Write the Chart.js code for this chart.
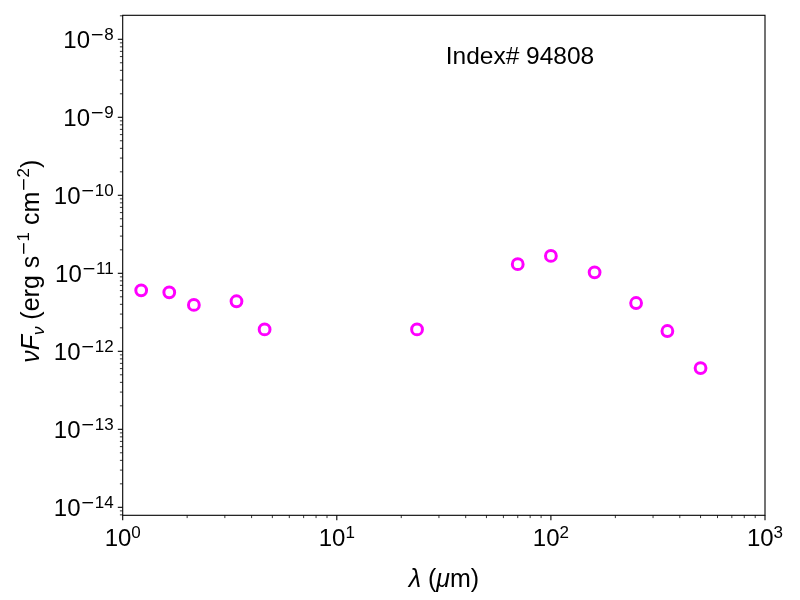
<!DOCTYPE html>
<html>
<head>
<meta charset="utf-8">
<title>SED Index# 94808</title>
<script src="https://cdn.jsdelivr.net/npm/chart.js@4/dist/chart.umd.min.js"></script>
<style>
  html, body { margin: 0; padding: 0; background: #fff; }
  canvas { display: block; }
</style>
</head>
<body>
<canvas id="sed" width="800" height="600"></canvas>
<script>
// ===== DATA =====
const lambdaUm = [1.22, 1.65, 2.15, 3.4, 4.6, 23.7, 70, 100, 160, 250, 350, 500];
const nuFnu = [6.05e-12, 5.7e-12, 3.93e-12, 4.38e-12, 1.91e-12, 1.91e-12, 1.31e-11, 1.67e-11, 1.03e-11, 4.16e-12, 1.82e-12, 6.1e-13];
const xRange = [1, 1000];
const yRange = [7.9e-15, 2.03e-8];
const xTickExps = [0, 1, 2, 3];
const yTickExps = [-14, -13, -12, -11, -10, -9, -8];
const minorSteps = [2, 3, 4, 5, 6, 7, 8, 9];
const titleText = 'Index# 94808';

const FAM = '"Liberation Sans", Arial, sans-serif';
const F_MAIN = '24px ' + FAM;
const F_SUP = '17px ' + FAM;
const F_MINUS = '17px "DejaVu Sans", sans-serif';   // mathtext minus is wide
const F_LBL = '25px ' + FAM;
const F_LBL_IT = 'italic 25px ' + FAM;
const F_LBL_SUB = 'italic 17px ' + FAM;

function drawRich(ctx, segs, x, y, align) {
  let w = 0;
  segs.forEach(s => { ctx.font = s.font; s.w = ctx.measureText(s.text).width; w += s.w; });
  let cx = align === 'center' ? x - w / 2 : align === 'right' ? x - w : x;
  ctx.textAlign = 'left';
  ctx.textBaseline = 'alphabetic';
  segs.forEach(s => { ctx.font = s.font; ctx.fillText(s.text, cx, y + (s.dy || 0)); cx += s.w; });
}

// "10" with a raised exponent
function powSegs(e, base) {
  const segs = [{ text: '10', font: base }];
  if (e < 0) segs.push({ text: '\u2212', font: F_MINUS, dy: -8 });
  segs.push({ text: String(Math.abs(e)), font: F_SUP, dy: -8 });
  return segs;
}

function tick(ctx, x1, y1, x2, y2, lw) {
  ctx.lineWidth = lw;
  ctx.beginPath(); ctx.moveTo(x1, y1); ctx.lineTo(x2, y2); ctx.stroke();
}

// matplotlib-like frame, ticks and labels
const mplAxes = {
  id: 'mplAxes',
  afterDraw(chart) {
    const { ctx, chartArea: a, scales: { x, y } } = chart;
    ctx.save();
    ctx.strokeStyle = '#000';
    ctx.fillStyle = '#000';

    // x ticks
    xTickExps.forEach((e, i) => {
      const px = x.getPixelForValue(Math.pow(10, e));
      tick(ctx, px, a.bottom, px, a.bottom + 4.9, 1.1);
      if (i < xTickExps.length - 1) {
        minorSteps.forEach(m => {
          const mx = x.getPixelForValue(m * Math.pow(10, e));
          tick(ctx, mx, a.bottom, mx, a.bottom + 2.8, 0.8);
        });
      }
      drawRich(ctx, powSegs(e, F_MAIN), px, a.bottom + 31, 'center');
    });

    // y ticks
    const yExpsAll = [yTickExps[0] - 1].concat(yTickExps);
    yExpsAll.forEach(e => {
      minorSteps.forEach(m => {
        const v = m * Math.pow(10, e);
        if (v < yRange[0] || v > yRange[1]) return;
        const my = y.getPixelForValue(v);
        tick(ctx, a.left, my, a.left - 2.8, my, 0.8);
      });
    });
    yTickExps.forEach(e => {
      const py = y.getPixelForValue(Math.pow(10, e));
      tick(ctx, a.left, py, a.left - 4.9, py, 1.1);
      drawRich(ctx, powSegs(e, F_MAIN), a.left - 9, py + 9, 'right');
    });

    // frame
    ctx.lineWidth = 1.1;
    ctx.strokeRect(a.left, a.top, a.right - a.left, a.bottom - a.top);

    // x title
    drawRich(ctx, [
      { text: '\u03bb', font: F_LBL_IT },
      { text: ' (', font: F_LBL },
      { text: '\u03bc', font: F_LBL_IT },
      { text: 'm)', font: F_LBL }
    ], (a.left + a.right) / 2, 587, 'center');

    // y title
    ctx.save();
    ctx.translate(39, (a.top + a.bottom) / 2 - 4);
    ctx.rotate(-Math.PI / 2);
    drawRich(ctx, [
      { text: '\u03bd', font: F_LBL_IT },
      { text: 'F', font: F_LBL_IT },
      { text: '\u03bd', font: F_LBL_SUB, dy: 5 },
      { text: ' (erg s', font: F_LBL },
      { text: '\u2212', font: F_MINUS, dy: -10 },
      { text: '1', font: F_SUP, dy: -10 },
      { text: ' cm', font: F_LBL },
      { text: '\u2212', font: F_MINUS, dy: -10 },
      { text: '2', font: F_SUP, dy: -10 },
      { text: ')', font: F_LBL }
    ], 0, 0, 'center');
    ctx.restore();

    // label inside the axes
    ctx.font = '24.5px ' + FAM;
    ctx.textAlign = 'center';
    ctx.textBaseline = 'alphabetic';
    ctx.fillText(titleText, 520, 64);

    ctx.restore();
  }
};

new Chart(document.getElementById('sed').getContext('2d'), {
  type: 'scatter',
  data: {
    datasets: [{
      label: titleText,
      data: lambdaUm.map((v, i) => ({ x: v, y: nuFnu[i] })),
      pointStyle: 'circle',
      pointRadius: 5.4,
      pointHoverRadius: 5.4,
      pointBorderWidth: 3,
      borderColor: '#ff00ff',
      backgroundColor: 'rgba(0,0,0,0)'
    }]
  },
  options: {
    responsive: false,
    animation: false,
    events: [],
    layout: { padding: { left: 122.7, right: 35, top: 15.3, bottom: 84.7 } },
    scales: {
      x: { type: 'logarithmic', min: xRange[0], max: xRange[1], display: false },
      y: { type: 'logarithmic', min: yRange[0], max: yRange[1], display: false }
    },
    plugins: { legend: { display: false }, tooltip: { enabled: false } }
  },
  plugins: [mplAxes]
});
</script>
</body>
</html>
